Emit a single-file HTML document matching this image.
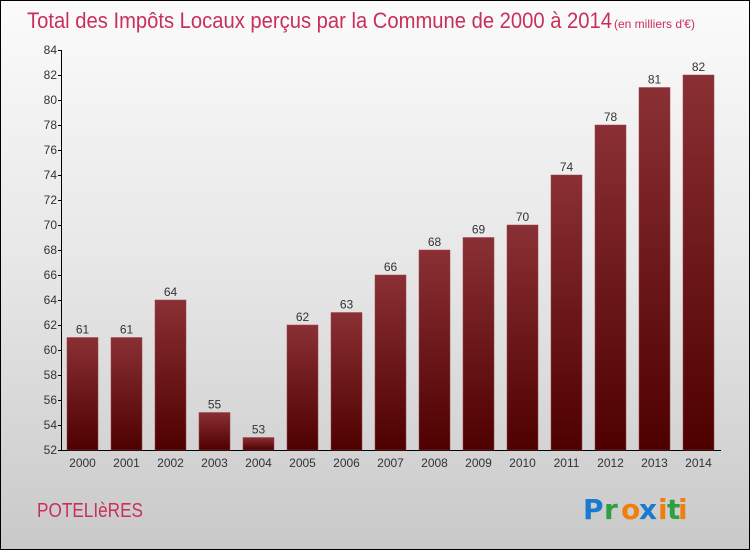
<!DOCTYPE html>
<html><head><meta charset="utf-8"><style>
html,body{margin:0;padding:0}
body{width:750px;height:550px;overflow:hidden;font-family:"Liberation Sans",sans-serif}
#wrap{position:relative;width:748px;height:548px;border:1px solid #000;background:linear-gradient(#fbfbfb,#e6e6e6 50%,#c9c9c9)}
</style></head><body>
<div id="wrap">
<svg id="chart" width="748" height="548" style="position:absolute;left:0;top:0">
<defs><linearGradient id="bg" x1="0" y1="0" x2="0" y2="1"><stop offset="0" stop-color="#8a3035"/><stop offset="1" stop-color="#4e0000"/></linearGradient></defs>
<text x="26" y="27" font-size="22" fill="#c8305a" textLength="585" lengthAdjust="spacingAndGlyphs">Total des Impôts Locaux perçus par la Commune de 2000 à 2014</text>
<text x="613" y="27" font-size="12" fill="#c8305a">(en milliers d'€)</text>
<text x="36" y="516" font-size="20" fill="#c8305a" textLength="106" lengthAdjust="spacingAndGlyphs">POTELIèRES</text>
<g font-size="28" font-weight="bold" font-family="'DejaVu Sans',sans-serif">
<text x="582" y="518" fill="#1a7ad0">P</text><text x="603" y="518" fill="#2ea040">r</text><text x="620" y="518" fill="#f07f10">o</text><text x="638" y="518" fill="#1a7ad0">x</text><text x="657" y="518" fill="#f07f10">i</text><text x="666" y="518" fill="#2ea040">t</text><text x="677" y="518" fill="#f07f10">i</text>
</g>
<g id="plot"></g>
</svg>
</div>
<script>
const categories=["2000","2001","2002","2003","2004","2005","2006","2007","2008","2009","2010","2011","2012","2013","2014"];
const values=[61,61,64,55,53,62,63,66,68,69,70,74,78,81,82];
const yTicks=[52,54,56,58,60,62,64,66,68,70,72,74,76,78,80,82,84];
const NS="http://www.w3.org/2000/svg";
const g=document.getElementById('plot');
const y=v=>449-(v-52)*12.5;
const x=i=>81.5+i*44;
function mk(t,a,txt){const e=document.createElementNS(NS,t);for(const k in a)e.setAttribute(k,a[k]);if(txt!==undefined)e.textContent=txt;g.appendChild(e);return e;}
let ax=mk('line',{x1:60.5,y1:y(84),x2:60.5,y2:y(52),stroke:'#000'});


let xx=mk('line',{x1:60.5,y1:y(52)+0.5,x2:720,y2:y(52)+0.5,stroke:'#000'});


yTicks.forEach(t=>{
  let l=mk('line',{x1:57,x2:61,y1:y(t)+0.5,y2:y(t)+0.5,stroke:'#000'});
  
  
  let tx=mk('text',{x:56,y:y(t)+4,'font-size':12,fill:'#333','text-anchor':'end'},t);
  
  
});
values.forEach((v,i)=>{
  let r=mk('rect',{x:x(i)-15.5,y:y(v),width:31,height:y(52)-y(v),fill:'url(#bg)',stroke:'#a04048','stroke-width':0.5});
  
  
  let lb=mk('text',{x:x(i),y:y(v)-4,'font-size':12,fill:'#333','text-anchor':'middle'},v);
  
  
  let c=mk('text',{x:x(i),y:466,'font-size':12,fill:'#333','text-anchor':'middle'},categories[i]);
  
  
});
</script>
</body></html>
